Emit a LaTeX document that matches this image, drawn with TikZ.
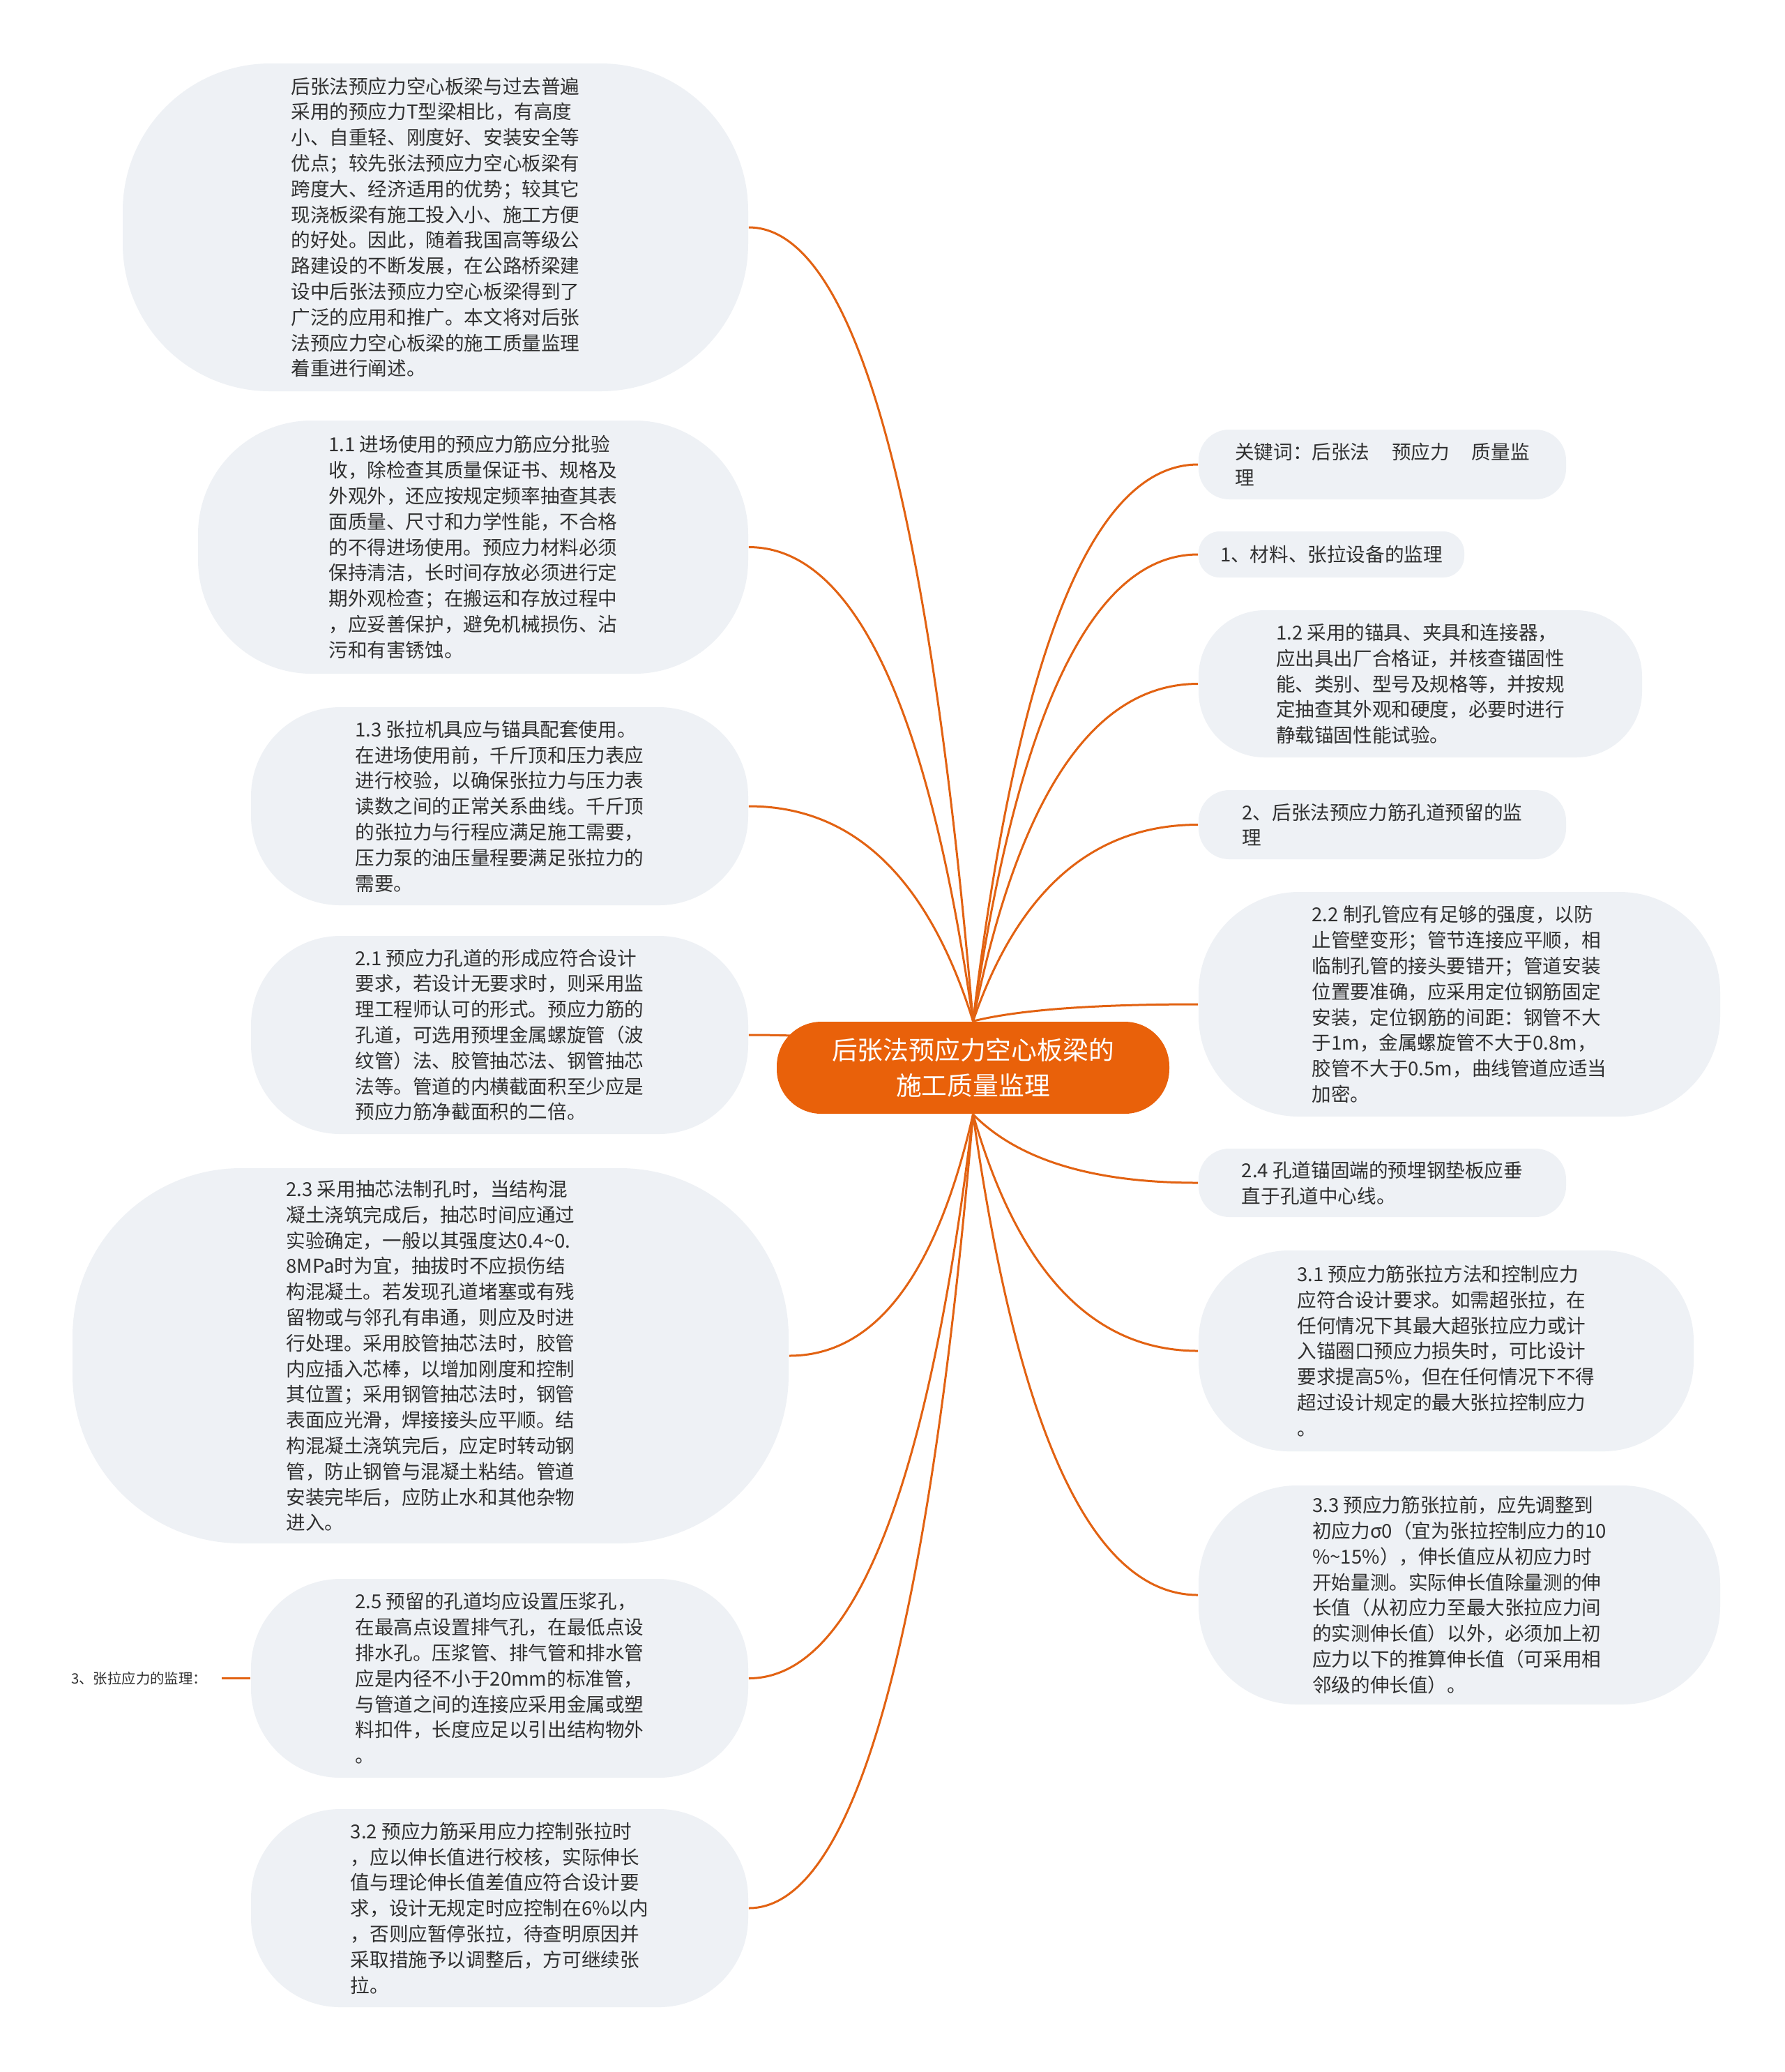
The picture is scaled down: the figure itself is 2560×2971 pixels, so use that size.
\documentclass[tikz,border=0pt]{standalone}
\usepackage{fontspec}
\newfontfamily\cjkf{Noto Sans CJK SC}
\usetikzlibrary{calc,backgrounds}
\definecolor{boxgray}{RGB}{238,241,245}
\definecolor{txtdark}{RGB}{48,48,48}
\definecolor{mainorange}{RGB}{233,97,10}
\definecolor{connorange}{RGB}{226,98,18}
\newcommand\mmlink[2]{%
  \draw[connline] let \p1=(#1), \p2=(#2) in
    (\p1) .. controls ({\x1+0.2*((\x2)-(\x1))},{\y1+0.6667*((\y2)-(\y1))})
           and ({\x2-0.4667*((\x2)-(\x1))},{\y2}) .. (\p2);}
\begin{document}
\begin{tikzpicture}[x=0.25pt,y=-0.25pt,
  gbox/.style={fill=boxgray,text=txtdark,align=left,inner sep=0pt,
    font=\cjkf\fontsize{6.9pt}{9.2pt}\selectfont},
  rootbox/.style={fill=mainorange,text=white,align=center,inner sep=0pt,
    font=\cjkf\fontsize{9.2pt}{12.8pt}\selectfont},
  connline/.style={draw=connorange,line width=0.75pt},
  sz/.style n args={3}{minimum width=#1pt,minimum height=#2pt,rounded corners=#3pt}]
\useasboundingbox (0,0) rectangle (2560,2971);

% central node
\node[rootbox,sz={140.75}{33}{16}] (c) at (1395.5,1531) {后张法预应力空心板梁的\\施工质量监理};

% left side
\node[gbox,sz={224.25}{117.5}{52.9}] (n0) at (624.5,326) {后张法预应力空心板梁与过去普遍\\采用的预应力T型梁相比，有高度\\小、自重轻、刚度好、安装安全等\\优点；较先张法预应力空心板梁有\\跨度大、经济适用的优势；较其它\\现浇板梁有施工投入小、施工方便\\的好处。因此，随着我国高等级公\\路建设的不断发展，在公路桥梁建\\设中后张法预应力空心板梁得到了\\广泛的应用和推广。本文将对后张\\法预应力空心板梁的施工质量监理\\着重进行阐述。};

\node[gbox,sz={197.25}{90.75}{40.8}] (n11) at (678.5,784.5) {1.1 进场使用的预应力筋应分批验\\收，除检查其质量保证书、规格及\\外观外，还应按规定频率抽查其表\\面质量、尺寸和力学性能，不合格\\的不得进场使用。预应力材料必须\\保持清洁，长时间存放必须进行定\\期外观检查；在搬运和存放过程中\\，应妥善保护，避免机械损伤、沾\\污和有害锈蚀。};

\node[gbox,sz={178.25}{71}{32}] (n13) at (716.5,1156) {1.3 张拉机具应与锚具配套使用。\\在进场使用前，千斤顶和压力表应\\进行校验，以确保张拉力与压力表\\读数之间的正常关系曲线。千斤顶\\的张拉力与行程应满足施工需要，\\压力泵的油压量程要满足张拉力的\\需要。};

\node[gbox,sz={178.25}{71}{32}] (n21) at (716.5,1484) {2.1 预应力孔道的形成应符合设计\\要求，若设计无要求时，则采用监\\理工程师认可的形式。预应力筋的\\孔道，可选用预埋金属螺旋管（波\\纹管）法、胶管抽芯法、钢管抽芯\\法等。管道的内横截面积至少应是\\预应力筋净截面积的二倍。};

\node[gbox,sz={256.75}{134.5}{60.5}] (n23) at (617.5,1944) {2.3 采用抽芯法制孔时，当结构混\\凝土浇筑完成后，抽芯时间应通过\\实验确定，一般以其强度达0.4\textasciitilde0.\\8MPa时为宜，抽拔时不应损伤结\\构混凝土。若发现孔道堵塞或有残\\留物或与邻孔有串通，则应及时进\\行处理。采用胶管抽芯法时，胶管\\内应插入芯棒，以增加刚度和控制\\其位置；采用钢管抽芯法时，钢管\\表面应光滑，焊接接头应平顺。结\\构混凝土浇筑完后，应定时转动钢\\管，防止钢管与混凝土粘结。管道\\安装完毕后，应防止水和其他杂物\\进入。};

\node[gbox,sz={178.25}{71.25}{32}] (n25) at (716.5,2406.5) {2.5 预留的孔道均应设置压浆孔，\\在最高点设置排气孔，在最低点设\\排水孔。压浆管、排气管和排水管\\应是内径不小于20mm的标准管，\\与管道之间的连接应采用金属或塑\\料扣件，长度应足以引出结构物外\\。};

\node[gbox,sz={178.25}{71}{32}] (n32) at (716.5,2736) {3.2 预应力筋采用应力控制张拉时\\，应以伸长值进行校核，实际伸长\\值与理论伸长值差值应符合设计要\\求，设计无规定时应控制在6\%以内\\，否则应暂停张拉，待查明原因并\\采取措施予以调整后，方可继续张\\拉。};

\node[text=txtdark,inner xsep=5pt,inner ysep=0pt,anchor=east,
  font=\cjkf\fontsize{5.1pt}{6pt}\selectfont] (lab) at (318,2406.5) {3、张拉应力的监理：};

% right side
\node[gbox,sz={131.75}{25}{11}] (kw) at (1982.5,666) {关键词：后张法\hspace{1.15em}预应力\hspace{1.15em}质量监\\理};

\node[gbox,sz={95.25}{16.5}{7.6}] (s1) at (1909.5,795) {1、材料、张拉设备的监理};

\node[gbox,sz={159}{52.75}{23.7}] (n12) at (2037,980.5) {1.2 采用的锚具、夹具和连接器，\\应出具出厂合格证，并核查锚固性\\能、类别、型号及规格等，并按规\\定抽查其外观和硬度，必要时进行\\静载锚固性能试验。};

\node[gbox,sz={131.75}{24.75}{11}] (s2) at (1982.5,1182.5) {2、后张法预应力筋孔道预留的监\\理};

\node[gbox,sz={187}{80.5}{36}] (n22) at (2093,1440) {2.2 制孔管应有足够的强度，以防\\止管壁变形；管节连接应平顺，相\\临制孔管的接头要错开；管道安装\\位置要准确，应采用定位钢筋固定\\安装，定位钢筋的间距：钢管不大\\于1m，金属螺旋管不大于0.8m，\\胶管不大于0.5m，曲线管道应适当\\加密。};

\node[gbox,sz={131.75}{24.5}{11}] (n24) at (1982.5,1696) {2.4 孔道锚固端的预埋钢垫板应垂\\直于孔道中心线。};

\node[gbox,sz={177.5}{72}{32.4}] (n31) at (2074,1937) {3.1 预应力筋张拉方法和控制应力\\应符合设计要求。如需超张拉，在\\任何情况下其最大超张拉应力或计\\入锚圈口预应力损失时，可比设计\\要求提高5\%，但在任何情况下不得\\超过设计规定的最大张拉控制应力\\。};

\node[gbox,sz={187}{78.5}{35.3}] (n33) at (2093,2287) {3.3 预应力筋张拉前，应先调整到\\初应力σ0（宜为张拉控制应力的10\\\%\textasciitilde15\%），伸长值应从初应力时\\开始量测。实际伸长值除量测的伸\\长值（从初应力至最大张拉应力间\\的实测伸长值）以外，必须加上初\\应力以下的推算伸长值（可采用相\\邻级的伸长值）。};

\begin{scope}[on background layer]
\fill[white] (0,0) rectangle (2560,2971);
\mmlink{c.north}{n0.east}
\mmlink{c.north}{n11.east}
\mmlink{c.north}{n13.east}
\mmlink{c.center}{n21.east}
\mmlink{c.south}{n23.east}
\mmlink{c.south}{n25.east}
\mmlink{c.south}{n32.east}
\mmlink{c.north}{kw.west}
\mmlink{c.north}{s1.west}
\mmlink{c.north}{n12.west}
\mmlink{c.north}{s2.west}
\mmlink{c.north}{n22.west}
\mmlink{c.south}{n24.west}
\mmlink{c.south}{n31.west}
\mmlink{c.south}{n33.west}
\draw[connline] (lab.east) -- (n25.west);
\end{scope}
\end{tikzpicture}
\end{document}
